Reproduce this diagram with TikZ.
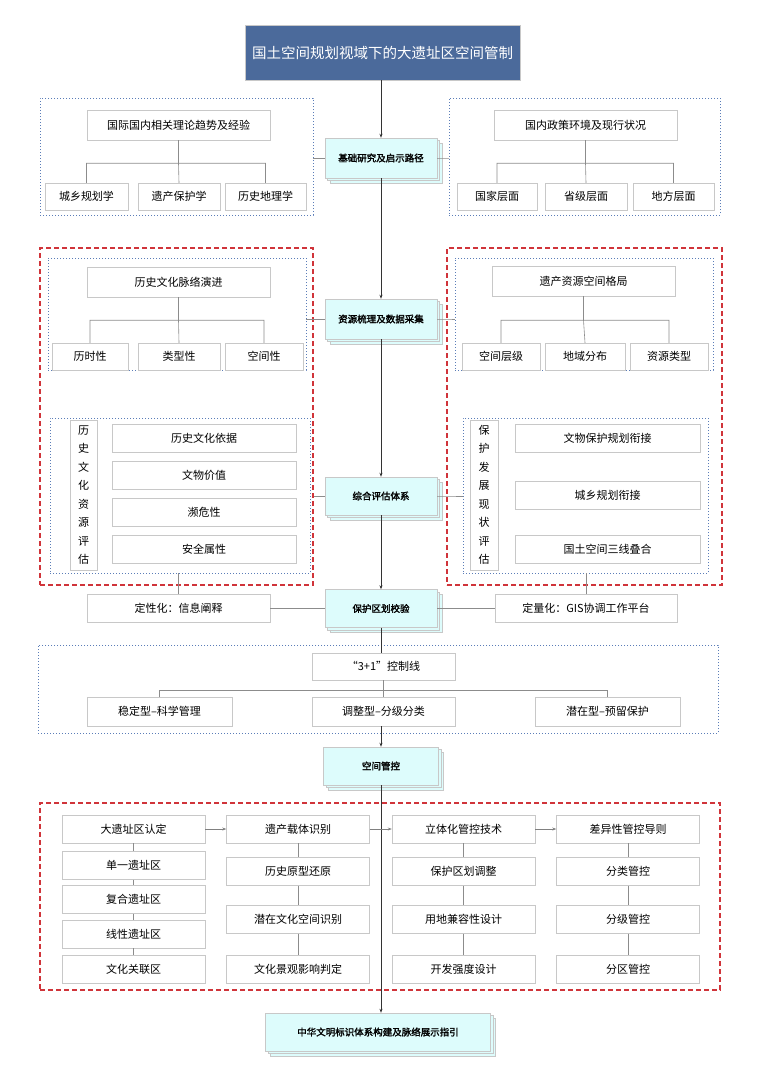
\documentclass[tikz,border=0pt]{standalone}
\usepackage{fontspec}
\setmainfont{Noto Sans CJK SC}[AutoFakeBold=2]
\usetikzlibrary{shadows,arrows.meta}
\definecolor{titleblue}{HTML}{4B6A9B}
\definecolor{stackcyan}{HTML}{DDFCFC}
\definecolor{boxgray}{HTML}{C8C8C8}
\definecolor{frameblue}{HTML}{5B7DB8}
\definecolor{framered}{HTML}{D0343A}
\tikzset{
  sz/.style 2 args={minimum width=#1pt, minimum height=#2pt},
  item/.style={draw=boxgray, fill=white, inner sep=0pt, font=\fontsize{11}{13}\selectfont, drop shadow={shadow xshift=0.6pt, shadow yshift=-0.6pt, fill=black!15}},
  stack/.style={draw=boxgray, fill=stackcyan, inner sep=0pt, font=\fontsize{9.5}{11}\selectfont\bfseries, double copy shadow={shadow xshift=2.5pt, shadow yshift=-2.5pt, fill=stackcyan, draw=boxgray}},
  vlabel/.style={item, align=center, font=\fontsize{11}{18.5}\selectfont},
  bluebox/.style={draw=frameblue, dash pattern=on 1pt off 2pt, line width=0.8pt},
  redbox/.style={draw=framered, dash pattern=on 5pt off 3pt, line width=1.2pt},
  tree/.style={draw=black!45, line width=0.6pt},
  spine/.style={draw=black!80, line width=0.7pt, -{Stealth[length=4pt,width=3pt]}},
}
\begin{document}
\begin{tikzpicture}[x=1pt, y=-1pt]
\useasboundingbox (0,0) rectangle (763,1072);

% title and spine
\node[fill=titleblue, draw=boxgray, text=white, sz={275}{55}, font=\fontsize{14.5}{16}\selectfont] (title) at (382.5,52.5) {国土空间规划视域下的大遗址区空间管制};
\node[stack, sz={112}{40}] (s1) at (381,158) {基础研究及启示路径};
\node[stack, sz={112}{40}] (s2) at (381,319) {资源梳理及数据采集};
\node[stack, sz={112}{38}] (s3) at (381,496) {综合评估体系};
\node[stack, sz={112}{38}] (s4) at (381,608.5) {保护区划校验};
\node[stack, sz={115}{38}] (s5) at (381,766) {空间管控};
\node[stack, sz={225}{38}] (s6) at (378,1032) {中华文明标识体系构建及脉络展示指引};

% basic research
\node[bluebox, sz={273}{117}] (fTL) at (176.5,156.5) {};
\node[item, sz={183}{30}] (gj) at (178.5,125) {国际国内相关理论趋势及经验};
\node[item, sz={83}{27}] (cx) at (86.5,196.5) {城乡规划学};
\node[item, sz={82}{27}] (yc) at (179,196.5) {遗产保护学};
\node[item, sz={81}{27}] (ls) at (265.5,196.5) {历史地理学};
\node[bluebox, sz={271}{117}] (fTR) at (584.5,156.5) {};
\node[item, sz={183}{30}] (gn) at (585.5,125) {国内政策环境及现行状况};
\node[item, sz={80}{27}] (gjc) at (497,196.5) {国家层面};
\node[item, sz={82}{27}] (sjc) at (586,196.5) {省级层面};
\node[item, sz={81}{27}] (dfc) at (673.5,196.5) {地方层面};

% resources
\node[redbox, sz={273}{337}] (rL) at (176.5,416.5) {};
\node[bluebox, sz={258}{112}] (fL1) at (177,314) {};
\node[item, sz={183}{30}] (mlyj) at (178.5,282) {历史文化脉络演进};
\node[item, sz={76}{27}] (lsx) at (90,356.5) {历时性};
\node[item, sz={82}{27}] (lxx) at (179,356.5) {类型性};
\node[item, sz={78}{27}] (kjx) at (264,356.5) {空间性};
\node[bluebox, sz={260}{155}] (fL2) at (180,495.5) {};
\node[vlabel, sz={27}{150}] (lsv) at (83.5,495) {历\\史\\文\\化\\资\\源\\评\\估};
\node[item, sz={184}{28}] (yj) at (204,438) {历史文化依据};
\node[item, sz={184}{28}] (jz) at (204,475.5) {文物价值};
\node[item, sz={184}{28}] (bw) at (204,512.5) {濒危性};
\node[item, sz={184}{28}] (aq) at (204,549) {安全属性};
\node[redbox, sz={275}{337}] (rR) at (584.5,416.5) {};
\node[bluebox, sz={258}{112}] (fR1) at (584,314) {};
\node[item, sz={183}{30}] (gjgj) at (583.5,281) {遗产资源空间格局};
\node[item, sz={78}{27}] (kjcj) at (501,356.5) {空间层级};
\node[item, sz={80}{27}] (dyfb) at (585,356.5) {地域分布};
\node[item, sz={78}{27}] (zylx) at (669,356.5) {资源类型};
\node[bluebox, sz={245}{155}] (fR2) at (585.5,495.5) {};
\node[vlabel, sz={28}{150}] (bhv) at (484,495) {保\\护\\发\\展\\现\\状\\评\\估};
\node[item, sz={185}{28}] (wbxj) at (607.5,438) {文物保护规划衔接};
\node[item, sz={185}{28}] (cxxj) at (607.5,495) {城乡规划衔接};
\node[item, sz={185}{28}] (sxdh) at (607.5,549) {国土空间三线叠合};
\node[item, sz={183}{28}] (dxh) at (178.5,608.5) {定性化：信息阐释};
\node[item, sz={182}{28}] (dlh) at (586,608.5) {定量化：GIS协调工作平台};

% control lines
\node[bluebox, sz={680}{88}] (fB) at (378,689) {};
\node[item, sz={143}{27}] (kzx) at (383.5,666.5) {“3+1”控制线};
\node[item, sz={145}{29}] (wdx) at (159.5,711.5) {稳定型–科学管理};
\node[item, sz={143}{29}] (tzx) at (383.5,711.5) {调整型–分级分类};
\node[item, sz={145}{29}] (qzx) at (607.5,711.5) {潜在型–预留保护};

% spatial control
\node[redbox, sz={680}{187}] (rB) at (380,896.5) {};
\node[item, sz={143}{28}] (rd) at (133.5,829) {大遗址区认定};
\node[item, sz={143}{28}] (dy) at (133.5,865.5) {单一遗址区};
\node[item, sz={143}{28}] (fh) at (133.5,899.5) {复合遗址区};
\node[item, sz={143}{28}] (xx) at (133.5,934) {线性遗址区};
\node[item, sz={143}{28}] (gl) at (133.5,969) {文化关联区};
\node[item, sz={143}{28}] (zt) at (298,829) {遗产载体识别};
\node[item, sz={143}{28}] (hy) at (298,871.5) {历史原型还原};
\node[item, sz={143}{28}] (qz) at (298,919.5) {潜在文化空间识别};
\node[item, sz={143}{28}] (jg) at (298,969) {文化景观影响判定};
\node[item, sz={143}{28}] (lt) at (463.5,829) {立体化管控技术};
\node[item, sz={143}{28}] (tz) at (463.5,871.5) {保护区划调整};
\node[item, sz={143}{28}] (jr) at (463.5,919.5) {用地兼容性设计};
\node[item, sz={143}{28}] (qd) at (463.5,969) {开发强度设计};
\node[item, sz={143}{28}] (cy) at (628,829) {差异性管控导则};
\node[item, sz={143}{28}] (fl) at (628,871.5) {分类管控};
\node[item, sz={143}{28}] (fj) at (628,919.5) {分级管控};
\node[item, sz={143}{28}] (fq) at (628,969) {分区管控};

% trees
\draw[tree] (gj.south) -- ++(0,23) coordinate (t1);
\draw[tree] (cx.north) |- (t1) -| (ls.north) (t1) -- (yc.north);
\draw[tree] (gn.south) -- ++(0,23) coordinate (t2);
\draw[tree] (gjc.north) |- (t2) -| (dfc.north) (t2) -- (sjc.north);
\draw[tree] (mlyj.south) -- ++(0,23) coordinate (t3);
\draw[tree] (lsx.north) |- (t3) -| (kjx.north) (t3) -- (lxx.north);
\draw[tree] (gjgj.south) -- ++(0,24) coordinate (t4);
\draw[tree] (kjcj.north) |- (t4) -| (zylx.north) (t4) -- (dyfb.north);
\draw[tree] (kzx.south) -- ++(0,10) coordinate (t5);
\draw[tree] (wdx.north) |- (t5) -| (qzx.north) (t5) -- (tzx.north);
\draw[tree] (rd) -- (dy) -- (fh) -- (xx) -- (gl);
\draw[tree] (zt) -- (hy) -- (qz) -- (jg);
\draw[tree] (lt) -- (tz) -- (jr) -- (qd);
\draw[tree] (cy) -- (fl) -- (fj) -- (fq);

% side links
\draw[tree] (fTL.east |- s1) -- (s1.west);
\draw[tree] (s1.east) -- ++(12,0) coordinate (e1) -- (fTR.west |- e1);
\draw[tree] (fL1.east |- s2) -- (s2.west);
\draw[tree] (s2.east) -- ++(12,0) coordinate (e2) -- (fR1.west |- e2);
\draw[tree] (rL.east |- s3) -- (s3.west);
\draw[tree] (s3.east) -- ++(12,0) coordinate (e3) -- (fR2.west |- e3);
\draw[tree] (dxh.north) -- (dxh.north |- fL2.south);
\draw[tree] (dlh.north) -- (dlh.north |- fR2.south);
\draw[tree] (dxh.east) -- (s4.west);
\draw[tree] (s4.east) -- (dlh.west);

% flow
\draw[spine] (title.south -| s1.north) -- (s1.north);
\draw[spine] (s1.south) -- (s2.north);
\draw[spine] (s2.south) -- (s3.north);
\draw[spine] (s3.south) -- (s4.north);
\draw[spine, -] (s4.south) -- (kzx.north -| s4.south);
\draw[spine] (tzx.south -| s5.north) -- (s5.north);
\draw[spine] (s5.south) -- (s6.north -| s5.south);
\draw[spine, black!50] (rd) -- (zt);
\draw[spine, black!50] (zt) -- (lt);
\draw[spine, black!50] (lt) -- (cy);
\end{tikzpicture}
\end{document}
